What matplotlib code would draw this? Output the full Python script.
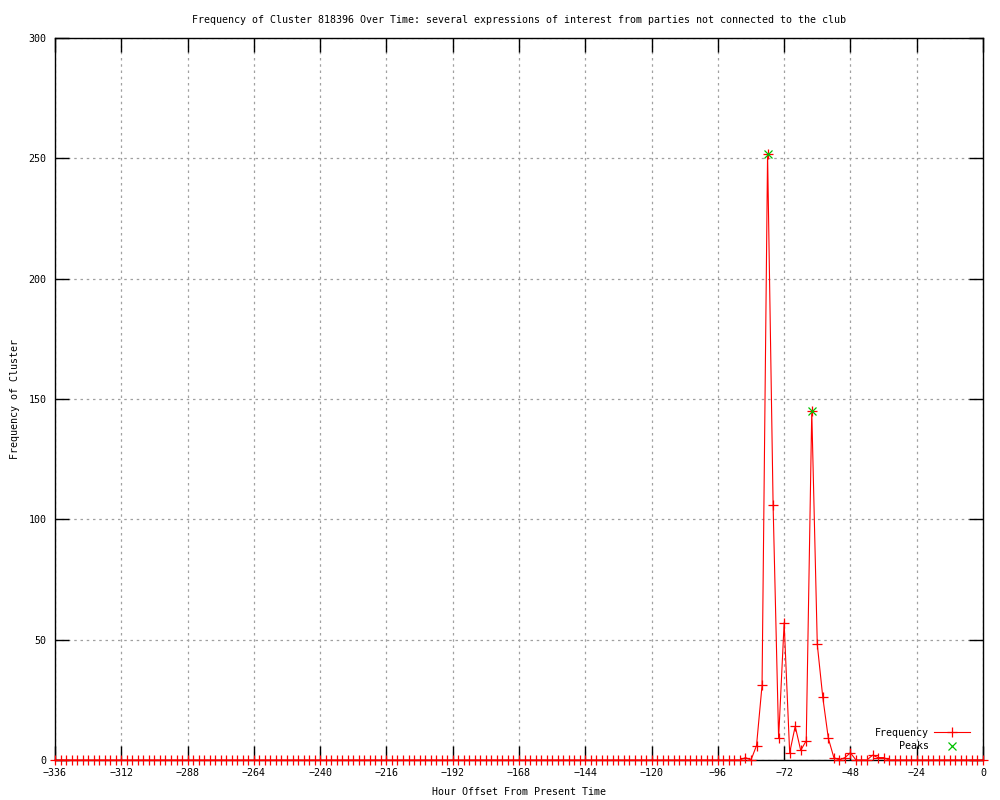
import matplotlib
matplotlib.use('Agg')
import matplotlib.pyplot as plt
import numpy as np

# hourly offsets, one sample every 2 hours
hours = np.arange(-336, 1, 2)

# counts for the active window, zero elsewhere
active_hours = [-94, -92, -90, -88, -86, -84, -82, -80, -78, -76, -74, -72, -70, -68,
                -66, -64, -62, -60, -58, -56, -54, -52, -50, -48, -46, -44, -42, -40,
                -38, -36, -34, -32]
active_counts = [0, 0, 0, 0, 1, 0, 6, 31, 252, 106, 9, 57, 3, 14,
                 4, 8, 145, 48, 26, 9, 1, 0, 1, 3, 0, 0, 0, 2,
                 1, 1, 0, 0]

peak_hours = [-78, -62]
peak_counts = [252, 145]

x_ticks = list(range(-336, 1, 24))
y_ticks = list(range(0, 301, 50))

title = ("Frequency of Cluster 818396 Over Time: several expressions of interest "
         "from parties not connected to the club")

counts = np.zeros(len(hours))
for h, c in zip(active_hours, active_counts):
    counts[np.where(hours == h)[0][0]] = c

plt.rcParams['font.family'] = ['DejaVu Sans Mono']
plt.rcParams['font.size'] = 7.2

fig = plt.figure(figsize=(10, 8), dpi=100)
ax = fig.add_axes([0.055, 0.05, 0.928, 0.9025])

ax.plot(hours, counts, color='red', linewidth=0.8, marker='+', markersize=7,
        markeredgewidth=0.9, label='Frequency', clip_on=False, zorder=3)
ax.plot(peak_hours, peak_counts, linestyle='none', marker='x', color='#00c000',
        markersize=6, markeredgewidth=0.9, label='Peaks', zorder=4)

ax.set_xlim(-336, 0)
ax.set_ylim(0, 300)
ax.set_xticks(x_ticks)
ax.set_yticks(y_ticks)
ax.grid(True, color='#a0a0a0', linestyle=(0, (2, 3)), linewidth=0.9)
ax.set_axisbelow(True)
ax.tick_params(direction='in', length=10, width=1, top=True, right=True,
               labeltop=False, labelright=False, pad=6)
for s in ax.spines.values():
    s.set_linewidth(1)

ax.set_title(title, fontsize=7.2, pad=11)
ax.set_xlabel('Hour Offset From Present Time', labelpad=6)
ax.set_ylabel('Frequency of Cluster', labelpad=6)

ax.legend(loc='lower right', bbox_to_anchor=(0.996, 0.0), frameon=False,
          markerfirst=False, handlelength=3.6, labelspacing=0.35,
          borderaxespad=0.5, handletextpad=0.5)

fig.savefig('out.png', dpi=100)
